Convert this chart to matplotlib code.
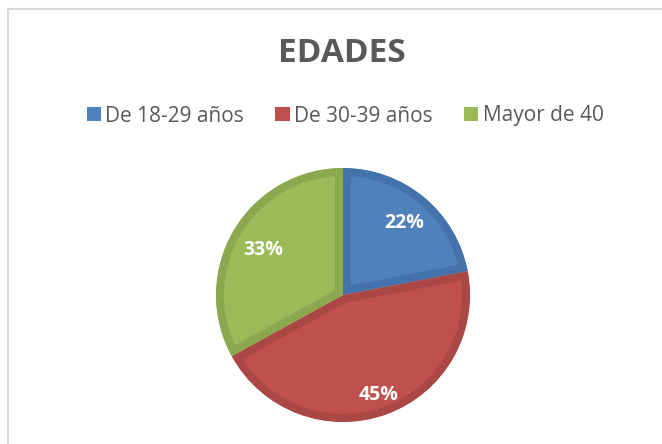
import matplotlib
matplotlib.use("Agg")
import matplotlib.pyplot as plt
from matplotlib.patches import Patch
from matplotlib.lines import Line2D
import numpy as np

categories = ["De 18-29 años", "De 30-39 años", "Mayor de 40"]
values = [22, 45, 33]
title = "EDADES"

colors = ["#4F81BD", "#C0504D", "#9BBB59"]
edge_colors = ["#4473AB", "#AB4845", "#8BA84F"]
label_dist = [0.76, 0.82, 0.73]

W, H = 662, 444
fig = plt.figure(figsize=(W / 100, H / 100), dpi=100)
fig.patch.set_facecolor("white")

cx, cy, r = 343, 295, 127
ax = fig.add_axes([(cx - r) / W, (H - cy - r) / H, 2 * r / W, 2 * r / H])
wedges, _ = ax.pie(values, colors=colors, startangle=90, counterclock=False,
                   radius=1.0, wedgeprops=dict(linewidth=0))
for w, ec in zip(wedges, edge_colors):
    w.set_edgecolor(ec)
    w.set_linewidth(11.5)
    w.set_clip_path(w)
    w.set_clip_on(True)

total = sum(values)
cum = 0
for v, d in zip(values, label_dist):
    mid = 90 - (cum + v / 2) / total * 360
    cum += v
    a = np.deg2rad(mid)
    ax.text(d * np.cos(a), d * np.sin(a), f"{v}%", ha="center", va="center_baseline",
            color="white", fontsize=14, fontweight="bold", family="Open Sans")
ax.set_xlim(-1, 1)
ax.set_ylim(-1, 1)
ax.set_aspect("equal")
ax.axis("off")

fig.text(342 / W, 1 - 54 / H, title, ha="center", va="center", fontsize=24,
         fontweight="bold", color="#595959", family="Open Sans")

handles = [Patch(facecolor=c, edgecolor="none") for c in colors]
leg = fig.legend(handles, categories, loc="center", bbox_to_anchor=(345 / W, 1 - 116 / H),
                 ncol=3, frameon=False, handlelength=0.7, handleheight=0.7,
                 handletextpad=0.2, columnspacing=1.5,
                 prop=dict(family="Open Sans", size=15))
for t in leg.get_texts():
    t.set_color("#595959")

border = "#D9D9D9"
fig.add_artist(Line2D([8 / W, 8 / W], [0, 1 - 9 / H], color=border, lw=1.5, transform=fig.transFigure))
fig.add_artist(Line2D([8 / W, 1], [1 - 9 / H, 1 - 9 / H], color=border, lw=1.5, transform=fig.transFigure))

fig.savefig("out.png", dpi=100)
